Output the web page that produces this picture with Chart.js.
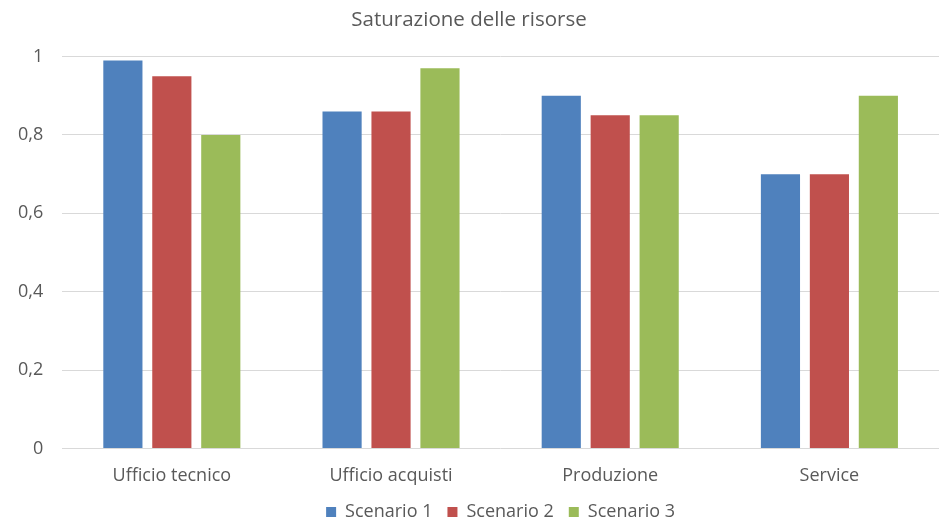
<!DOCTYPE html>
<html>
<head>
<meta charset="utf-8">
<script src="https://cdn.jsdelivr.net/npm/chart.js@4"></script>
<style>
  html, body { margin: 0; padding: 0; background: #fff; }
  #wrap { width: 939px; height: 523px; }
</style>
</head>
<body>
<div id="wrap"><canvas id="myChart"></canvas></div>
<script>
// valori
const categories = ['Ufficio tecnico', 'Ufficio acquisti', 'Produzione', 'Service']
const scenario1 = [0.99, 0.86, 0.90, 0.70]
const scenario2 = [0.95, 0.86, 0.85, 0.70]
const scenario3 = [0.80, 0.97, 0.85, 0.90]
const seriesNames = ['Scenario 1', 'Scenario 2', 'Scenario 3']
const colors = ['#4F81BD', '#C0504D', '#9BBB59']

const fontFamily = "'Open Sans', 'Liberation Sans', sans-serif"
const textColor = '#595959'

const ctx = document.getElementById('myChart')

new Chart(ctx, {
  type: 'bar',
  data: {
    labels: categories,
    datasets: [scenario1, scenario2, scenario3].map((vals, i) => ({
      label: seriesNames[i],
      data: vals,
      backgroundColor: colors[i],
      borderWidth: 0,
      barPercentage: 0.8,
      categoryPercentage: 0.67,
    }))
  },
  options: {
    responsive: true,
    maintainAspectRatio: false,
    animation: false,
    // il padding sinistro compensa lo spazio riservato alla prima etichetta x
    layout: { padding: { left: -1, right: 0, top: 0, bottom: -8 } },
    plugins: {
      title: {
        display: true,
        text: 'Saturazione delle risorse',
        color: textColor,
        font: { family: fontFamily, size: 20.5, weight: 'normal' },
        padding: { top: 8, bottom: 24 }
      },
      legend: {
        position: 'bottom',
        fullSize: false,
        labels: {
          boxWidth: 10,
          boxHeight: 10,
          color: textColor,
          padding: 15,
          font: { family: fontFamily, size: 18 }
        }
      },
      tooltip: { enabled: false }
    },
    scales: {
      y: {
        min: 0,
        max: 1,
        ticks: {
          stepSize: 0.2,
          color: textColor,
          padding: 19,
          font: { family: fontFamily, size: 18 },
          callback: (v) => (v === 0 || v === 1) ? String(v) : v.toFixed(1).replace('.', ',')
        },
        grid: { color: '#D9D9D9', drawTicks: false },
        border: { display: false }
      },
      x: {
        afterFit: (scale) => {
          scale.height -= 8
        },
        ticks: {
          color: textColor,
          padding: 9,
          font: { family: fontFamily, size: 18 }
        },
        grid: { display: false },
        border: { display: false }
      }
    }
  }
})
</script>
</body>
</html>
